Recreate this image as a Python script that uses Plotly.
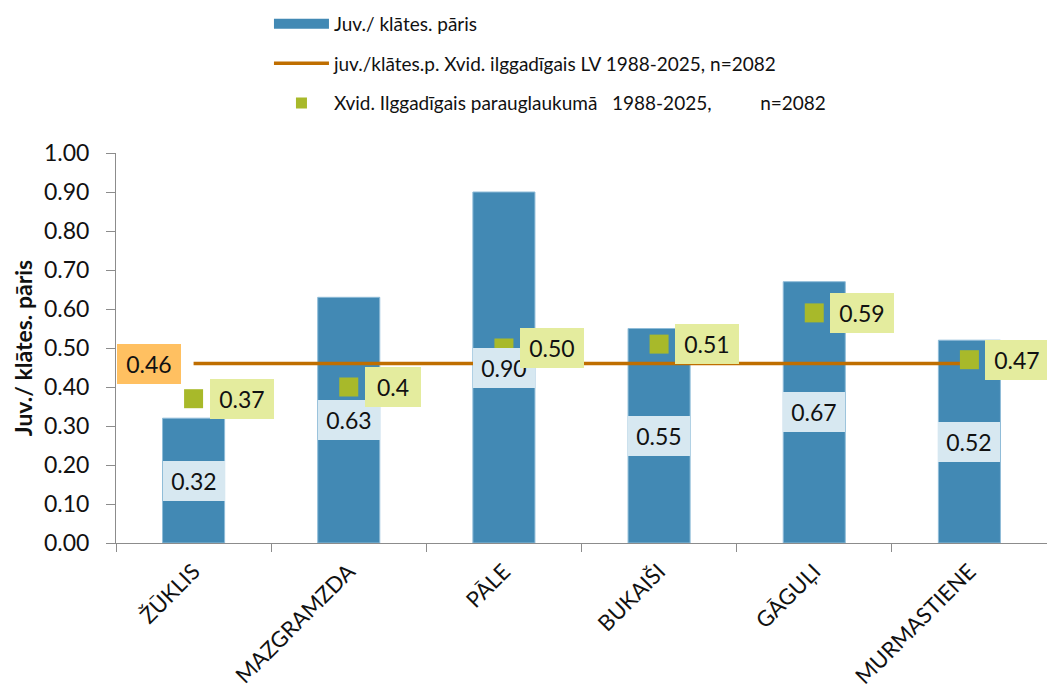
import plotly.graph_objects as go

# Sites and their values
sites = ["ŽŪKLIS", "MAZGRAMZDA", "PĀLE", "BUKAIŠI", "GĀGUĻI", "MURMASTIENE"]
pair_ratio = [0.32, 0.63, 0.90, 0.55, 0.67, 0.52]
lv_mean = [0.46, 0.46, 0.46, 0.46, 0.46, 0.46]
plot_mean = [0.37, 0.4, 0.50, 0.51, 0.59, 0.47]
plot_mean_labels = ["0.37", "0.4", "0.50", "0.51", "0.59", "0.47"]
y_ticks = [0.0, 0.1, 0.2, 0.3, 0.4, 0.5, 0.6, 0.7, 0.8, 0.9, 1.0]

name_bar = "Juv./ klātes. pāris"
name_line = "juv./klātes.p. Xvid. ilggadīgais LV 1988-2025, n=2082"
name_pts = ("Xvid. Ilggadīgais parauglaukumā" + "\u00a0" * 3 + "1988-2025,"
            + "\u00a0" * 10 + "n=2082")

FONT = "Lato, 'Open Sans', sans-serif"
BAR_C = "#4289B4"
LINE_C = "#BF6E00"
PT_C = "#A8B92A"

fig = go.Figure()

fig.add_trace(go.Bar(
    x=sites, y=pair_ratio, width=0.4, name=name_bar, showlegend=False,
    marker=dict(color=BAR_C, line=dict(color="#8FBCD8", width=1)),
    legendgroup="g1", hoverinfo="x+y",
))
# legend entry for the bars, drawn as a wide swatch
fig.add_trace(go.Scatter(
    x=[None], y=[None], mode="lines", name=name_bar, legendgroup="g1",
    line=dict(color=BAR_C, width=12),
))
fig.add_trace(go.Scatter(
    x=sites, y=lv_mean, mode="lines", name=name_line, legendgroup="g2",
    line=dict(color=LINE_C, width=3.5),
))
fig.add_trace(go.Scatter(
    x=sites, y=plot_mean, mode="markers", name=name_pts, legendgroup="g3",
    marker=dict(symbol="square", size=19, color=PT_C), showlegend=False,
))
# legend entry for the plot averages, with a smaller square
fig.add_trace(go.Scatter(
    x=[None], y=[None], mode="markers", name=name_pts, legendgroup="g3",
    marker=dict(symbol="square", size=11, color=PT_C),
))

LBL = dict(family=FONT, size=23, color="#111111")
annotations = []
# value boxes in the middle of each bar
for s, v in zip(sites, pair_ratio):
    annotations.append(dict(
        x=s, y=v / 2, xref="x", yref="y", text=f"{v:.2f}", showarrow=False,
        font=LBL, bgcolor="#D7E8F1", width=62, height=40, borderpad=0,
        borderwidth=0, xanchor="center", yanchor="middle",
    ))
# long-term LV average label
annotations.append(dict(
    x=sites[0], y=lv_mean[0], xref="x", yref="y", text=f"{lv_mean[0]:.2f}",
    showarrow=False, font=LBL, bgcolor="#FFC061", width=64, height=40,
    borderpad=0, borderwidth=0, xanchor="right", yanchor="middle", xshift=-13,
))
# plot averages, boxes to the right of each square
for s, v, t in zip(sites, plot_mean, plot_mean_labels):
    annotations.append(dict(
        x=s, y=v, xref="x", yref="y", text=t, showarrow=False,
        font=LBL, bgcolor="#E4EC9E", width=64 if len(t) > 3 else 56,
        height=40, borderpad=0, borderwidth=0,
        xanchor="left", yanchor="middle", xshift=16,
    ))

fig.update_layout(
    width=1047, height=693,
    margin=dict(l=116, r=0, t=153, b=150),
    paper_bgcolor="white", plot_bgcolor="white",
    font=dict(family=FONT, color="#111111"),
    annotations=annotations,
    legend=dict(
        orientation="v", x=0.1643, xanchor="left", y=1.38, yanchor="top",
        font=dict(family=FONT, size=19, color="#111111"),
        itemwidth=55, tracegroupgap=12, itemsizing="trace",
        bgcolor="rgba(0,0,0,0)",
    ),
    showlegend=True,
)

fig.update_xaxes(
    type="category", showline=True, linecolor="#8C8C8C", linewidth=1,
    ticks="outside", tickson="boundaries", ticklen=8, tickcolor="#8C8C8C",
    tickangle=-45, tickfont=dict(family=FONT, size=22, color="#111111"),
    ticklabelstandoff=6, showgrid=False, range=[-0.5, 5.5],
)
fig.update_yaxes(
    range=[0, 1], tickvals=y_ticks, tickformat=".2f",
    showline=True, linecolor="#8C8C8C", linewidth=1,
    ticks="outside", ticklen=9, tickcolor="#8C8C8C",
    tickfont=dict(family=FONT, size=23, color="#111111"),
    ticklabelstandoff=12, showgrid=False, zeroline=False,
    title=dict(text="<b>Juv./ klātes. pāris</b>", standoff=4,
               font=dict(family=FONT, size=23, color="#111111")),
)

fig.write_html("out.html")
